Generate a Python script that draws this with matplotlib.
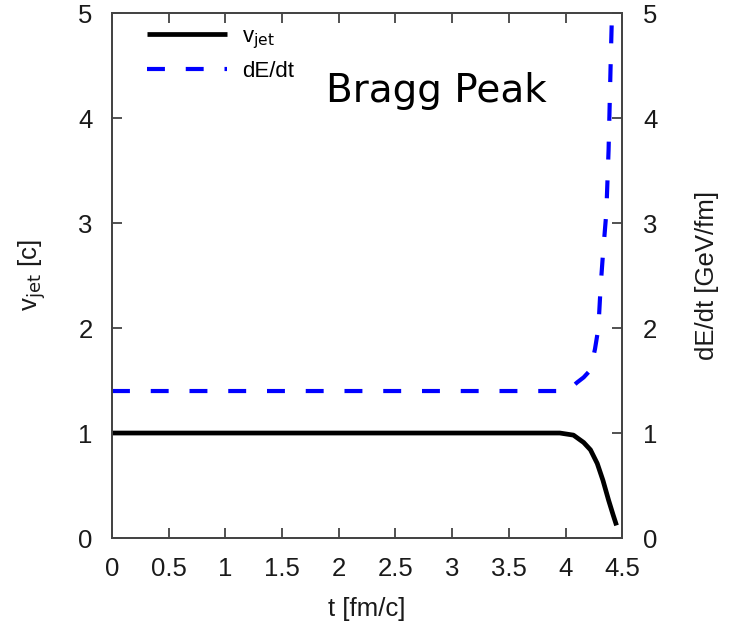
import matplotlib
matplotlib.use("Agg")
import matplotlib.pyplot as plt

# data
t_v = [0.0, 3.95, 4.07, 4.16, 4.22, 4.28, 4.33, 4.38, 4.42, 4.45]
v_jet = [1.0, 1.0, 0.98, 0.91, 0.84, 0.71, 0.55, 0.36, 0.22, 0.12]
t_e = [0.0, 3.95, 4.05, 4.10, 4.16, 4.22, 4.26, 4.29, 4.31, 4.33, 4.36, 4.38, 4.40, 4.41]
dEdt = [1.4, 1.4, 1.43, 1.48, 1.53, 1.60, 1.80, 2.0, 2.4, 2.7, 3.1, 3.7, 4.6, 5.0]
xticks = [0, 0.5, 1, 1.5, 2, 2.5, 3, 3.5, 4, 4.5]
xtick_labels = ["0", "0.5", "1", "1.5", "2", "2.5", "3", "3.5", "4", "4.5"]
yticks = [0, 1, 2, 3, 4, 5]

plt.rcParams['font.family'] = ['Liberation Sans', 'DejaVu Sans']
fig = plt.figure(figsize=(7.32, 6.34), dpi=100)
ax = fig.add_axes([0.153, 0.1514, 0.697, 0.828])

ax.plot(t_v, v_jet, color='black', lw=3.4, label=r'v$_{\rm jet}$', solid_capstyle='butt')
ax.plot(t_e, dEdt, color='#0000ff', lw=3.0, dashes=(4.3, 5.0), label='dE/dt')

ax.set_xlim(0, 4.5)
ax.set_ylim(0, 5)
ax.set_xticks(xticks)
ax.set_xticklabels(xtick_labels)
ax.set_yticks(yticks)
ax.tick_params(direction='in', length=7, width=1.2, labelsize=18.5, pad=14,
               top=True, right=False, colors='#333333', labelcolor='#1a1a1a')
for s in ax.spines.values():
    s.set_linewidth(1.3)
    s.set_color('#444444')

ax2 = ax.twinx()
ax2.set_ylim(0, 5)
ax2.set_yticks(yticks)
ax2.tick_params(direction='in', length=7, width=1.2, labelsize=18.5, pad=15,
                colors='#333333', labelcolor='#1a1a1a')
for s in ax2.spines.values():
    s.set_linewidth(1.3)
    s.set_color('#444444')

ax.set_xlabel('t [fm/c]', fontsize=18.5, color='#1a1a1a', labelpad=11)
ax.set_ylabel(r'v$_{\rm jet}$ [c]', fontsize=18.5, color='#1a1a1a', labelpad=22)
ax2.set_ylabel('dE/dt [GeV/fm]', fontsize=18.5, color='#1a1a1a', labelpad=27)

ax.text(2.86, 4.15, 'Bragg Peak', fontsize=28, family=['DejaVu Sans'],
        ha='center', va='baseline')

leg = ax.legend(loc='upper left', frameon=False, fontsize=16, handlelength=3.6,
                borderaxespad=0.0, borderpad=0.0, labelspacing=0.45, handletextpad=0.7,
                bbox_to_anchor=(0.068, 0.975))

fig.savefig('out.png', dpi=100)
